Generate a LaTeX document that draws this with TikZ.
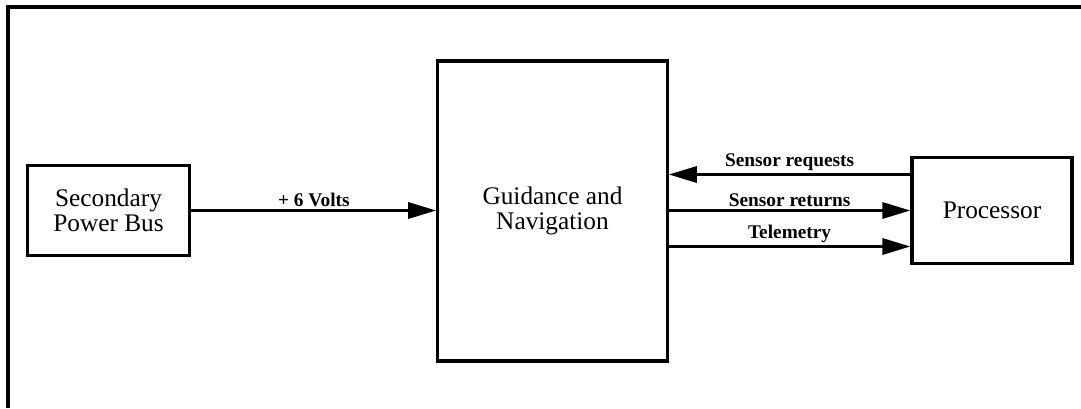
\documentclass[tikz,border=0pt]{standalone}
\usepackage{fontspec}
\setmainfont{Liberation Serif}
\usepackage{tikz}
\usetikzlibrary{arrows.meta}

\begin{document}
\begin{tikzpicture}[x=0.75pt,y=-0.75pt,
    blk/.style={draw,line width=2.4pt,align=center,inner sep=0pt,
      font=\fontsize{19}{18.5}\selectfont},
    sig/.style={line width=2.4pt,-{Triangle[length=21pt,width=12pt]}},
    lbl/.style={above,inner sep=1.5pt,font=\fontsize{14.5}{15}\bfseries\selectfont}]
      \useasboundingbox (0,0) rectangle (1081,408);
      \draw[line width=3pt] (8,408) -- (8,7) -- (1081,7);
      \node[blk,minimum width=122pt,minimum height=67pt] (spb) at (108.5,210.5) {Secondary\\Power Bus};
      \node[blk,minimum width=172pt,minimum height=225pt] (gn) at (552.5,211) {Guidance and\\Navigation};
      \node[blk,minimum width=120pt,minimum height=80pt] (proc) at (992,210.5) {Processor};
      \draw[sig] (spb.east) -- (spb.east -| gn.west) node[lbl,midway] {+ 6 Volts};
      \draw[sig] ([yshift=27pt]proc.west) -- ([yshift=27pt]proc.west -| gn.east) node[lbl,midway] {Sensor requests};
      \draw[sig] (proc.west -| gn.east) -- (proc.west) node[lbl,midway] {Sensor returns};
      \draw[sig] ([yshift=-27pt]proc.west -| gn.east) -- ([yshift=-27pt]proc.west) node[lbl,midway] {Telemetry};
    \end{tikzpicture}
\end{document}
